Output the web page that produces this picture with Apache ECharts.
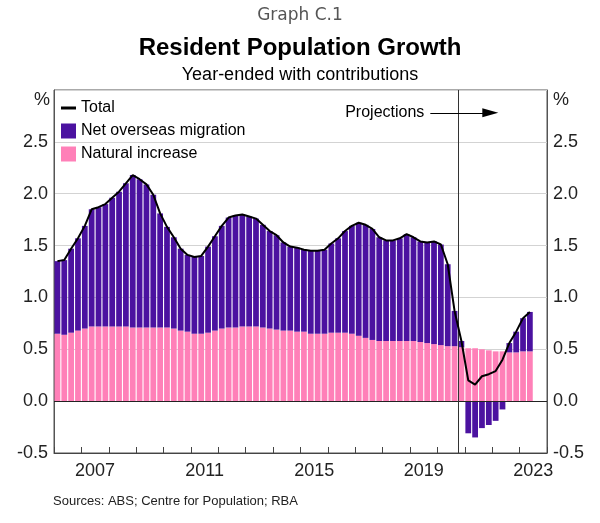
<!DOCTYPE html>
<html><head><meta charset="utf-8">
<script src="https://cdn.jsdelivr.net/npm/echarts@6/dist/echarts.min.js"></script>
<style>html,body{margin:0;padding:0;background:#fff}#c{width:600px;height:523px}</style>
</head><body><div id="c"></div>
<script>
// Quarterly categories: Mar 2006 .. Dec 2023 (data ends Jun 2023)
const years = [2006,2007,2008,2009,2010,2011,2012,2013,2014,2015,2016,2017,2018,2019,2020,2021,2022,2023];
const quarterNames = ['Mar','Jun','Sep','Dec'];
const categories = [];
years.forEach(y => quarterNames.forEach(q => categories.push(q + ' ' + y)));

const yearLabels = [2007, 2011, 2015, 2019, 2023];
const yTicks = [-0.5, 0, 0.5, 1, 1.5, 2, 2.5, 3];

const naturalIncrease = [
  0.65,0.64,0.66,0.68,0.70,0.72,0.72,0.72,0.72,0.72,0.72,0.71,0.71,0.71,
  0.71,0.71,0.71,0.70,0.68,0.67,0.65,0.65,0.66,0.68,0.70,0.71,0.71,0.72,
  0.72,0.72,0.71,0.70,0.69,0.68,0.68,0.67,0.67,0.65,0.65,0.65,0.66,0.66,
  0.66,0.65,0.63,0.61,0.59,0.58,0.58,0.58,0.58,0.58,0.58,0.57,0.56,0.55,
  0.54,0.53,0.53,0.52,0.51,0.51,0.50,0.49,0.48,0.48,0.47,0.47,0.48,0.48
];
const netOverseasMigration = [
  0.70,0.72,0.81,0.89,0.99,1.13,1.15,1.18,1.24,1.30,1.38,1.47,1.43,1.38,
  1.28,1.10,0.97,0.88,0.79,0.74,0.74,0.75,0.83,0.91,0.99,1.06,1.08,1.08,
  1.06,1.04,0.99,0.94,0.91,0.85,0.81,0.81,0.79,0.80,0.80,0.81,0.86,0.91,
  0.98,1.04,1.09,1.09,1.07,1.00,0.97,0.97,0.99,1.03,1.00,0.97,0.97,0.99,
  0.97,0.79,0.34,0.06,-0.31,-0.35,-0.26,-0.23,-0.19,-0.08,0.09,0.20,0.32,0.38
];
const total = [
  1.35,1.36,1.47,1.57,1.69,1.85,1.87,1.90,1.96,2.02,2.10,2.18,2.14,2.09,
  1.99,1.81,1.68,1.58,1.47,1.41,1.39,1.40,1.49,1.59,1.69,1.77,1.79,1.80,
  1.78,1.76,1.70,1.64,1.60,1.53,1.49,1.48,1.46,1.45,1.45,1.46,1.52,1.57,
  1.64,1.69,1.72,1.70,1.66,1.58,1.55,1.55,1.57,1.61,1.58,1.54,1.53,1.54,
  1.51,1.32,0.87,0.58,0.20,0.16,0.24,0.26,0.29,0.40,0.56,0.67,0.80,0.86
];
const projectionStart = 2020.75;
const arrowFrom = [2019.74, 2.78];
const arrowTo = [2021.93, 2.78];

const PURPLE = '#4B12A0';
const PINK = '#FF80B8';
const FONT = '"Liberation Sans", Arial, sans-serif';

const chart = echarts.init(document.getElementById('c'), null, {renderer: 'canvas'});

const yAxisCommon = {
  type: 'value', min: -0.5, max: 3, interval: 0.5,
  axisLine: {show: true, lineStyle: {color: '#555'}},
  axisTick: {show: false},
  axisLabel: {fontSize: 18, fontFamily: FONT, color: '#222', margin: 6,
    formatter: v => (v >= 3 ? '' : v.toFixed(1))},
  name: '%', nameLocation: 'end', nameGap: -1
};

chart.setOption({
  animation: false,
  backgroundColor: '#fff',
  title: [
    {text: 'Graph C.1', left: 'center', top: 7, padding: 0,
     textStyle: {fontSize: 17, fontWeight: 'normal', color: '#555', fontFamily: '"DejaVu Sans", sans-serif'}},
    {text: 'Resident Population Growth', left: 'center', top: 36, padding: 0,
     textStyle: {fontSize: 24, fontWeight: 'bold', color: '#000', fontFamily: FONT}},
    {text: 'Year-ended with contributions', left: 'center', top: 66, padding: 0,
     textStyle: {fontSize: 18, fontWeight: 'normal', color: '#000', fontFamily: FONT}},
    {text: 'Sources: ABS; Centre for Population; RBA', left: 53, top: 495, padding: 0,
     textStyle: {fontSize: 13, fontWeight: 'normal', color: '#222', fontFamily: FONT}}
  ],
  legend: {
    orient: 'vertical', left: 61, top: 100, padding: 0, itemGap: 7,
    itemWidth: 15, itemHeight: 15,
    textStyle: {fontSize: 16, fontFamily: FONT, color: '#000'},
    data: [
      {name: 'Total', icon: 'path://M0,0L15,0L15,3L0,3Z', itemStyle: {color: '#000'}},
      {name: 'Net overseas migration', icon: 'rect'},
      {name: 'Natural increase', icon: 'rect'}
    ]
  },
  grid: {left: 54, right: 53, top: 90, bottom: 70, show: true, borderColor: '#555', borderWidth: 1, containLabel: false},
  xAxis: [
    {type: 'category', data: categories, position: 'bottom', boundaryGap: true,
     axisLine: {show: true, onZero: false, lineStyle: {color: '#444'}},
     axisTick: {show: true, inside: true, length: 6, interval: 3, lineStyle: {color: '#444'}},
     axisLabel: {show: false}, splitLine: {show: false}},
    {type: 'value', min: 2006, max: 2024, interval: 0.5, position: 'bottom',
     axisLine: {show: false, onZero: false}, axisTick: {show: false}, splitLine: {show: false},
     axisLabel: {fontSize: 18, fontFamily: FONT, color: '#222', margin: 9,
       showMinLabel: true, showMaxLabel: true,
       formatter: v => {
         const y = Math.floor(v);
         return (Math.abs(v - y - 0.5) < 1e-6 && yearLabels.indexOf(y) >= 0) ? String(y) : '';
       }}}
  ],
  yAxis: [
    Object.assign({}, yAxisCommon, {position: 'left',
      splitLine: {show: true, lineStyle: {color: '#d3d3d3', width: 1}},
      nameTextStyle: {fontSize: 18, fontFamily: FONT, color: '#222', align: 'right', verticalAlign: 'top', padding: [0, 4, 0, 0]}}),
    Object.assign({}, yAxisCommon, {position: 'right', splitLine: {show: false},
      nameTextStyle: {fontSize: 18, fontFamily: FONT, color: '#222', align: 'left', verticalAlign: 'top', padding: [0, 0, 0, 6]}})
  ],
  series: [
    {name: 'Natural increase', type: 'bar', stack: 'c', xAxisIndex: 0, yAxisIndex: 0,
     data: naturalIncrease, barCategoryGap: '16%', itemStyle: {color: PINK},
     markLine: {silent: true, symbol: 'none', label: {show: false},
       lineStyle: {color: '#222', width: 1, type: 'solid'}, data: [{yAxis: 0}]}},
    {name: 'Net overseas migration', type: 'bar', stack: 'c', xAxisIndex: 0, yAxisIndex: 0,
     data: netOverseasMigration, barCategoryGap: '16%', itemStyle: {color: PURPLE}},
    {name: 'Total', type: 'line', xAxisIndex: 0, yAxisIndex: 0, data: total,
     symbol: 'none', lineStyle: {color: '#000', width: 2}, itemStyle: {color: '#000'}, z: 5},
    {name: 'annot', type: 'line', xAxisIndex: 1, yAxisIndex: 0, data: [], z: 6,
     markLine: {silent: true, animation: false,
       data: [
         [{xAxis: projectionStart, yAxis: 3, symbol: 'none', lineStyle: {color: '#333', width: 1, type: 'solid'}, label: {show: false}},
          {xAxis: projectionStart, yAxis: -0.5, symbol: 'none'}],
         [{coord: arrowFrom, symbol: 'none', lineStyle: {color: '#000', width: 1, type: 'solid'},
           label: {show: true, position: 'start', formatter: 'Projections', fontSize: 16, fontFamily: FONT, color: '#000', distance: 6}},
          {coord: arrowTo, symbol: 'triangle', symbolSize: [9, 16]}]
       ]}}
  ]
});
</script>
</body></html>
